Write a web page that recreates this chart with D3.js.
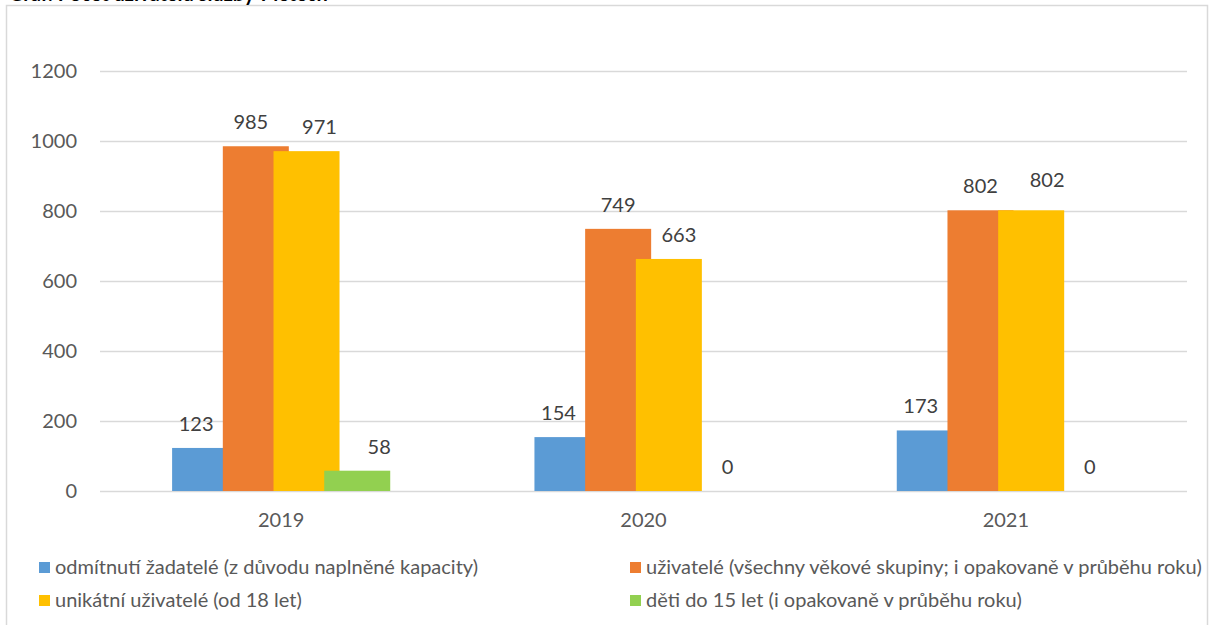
<!DOCTYPE html>
<html><head><meta charset="utf-8">
<script src="https://cdn.jsdelivr.net/npm/d3@7"></script>
<style>html,body{margin:0;padding:0;background:#fff;overflow:hidden}svg{display:block}</style>
</head><body>
<svg id="c" width="1213" height="625"></svg>
<script>
const years = ["2019", "2020", "2021"];
const seriesNames = [
  "odmítnutí žadatelé (z důvodu naplněné kapacity)",
  "uživatelé (všechny věkové skupiny; i opakovaně v průběhu roku)",
  "unikátní uživatelé (od 18 let)",
  "děti do 15 let (i opakovaně v průběhu roku)"
];
const odmitnuti = [123, 154, 173];
const uzivatele = [985, 749, 802];
const unikatni = [971, 663, 802];
const deti = [58, 0, 0];
const yTicks = [0, 200, 400, 600, 800, 1000, 1200];
const colors = ["#5B9BD5", "#ED7D31", "#FFC000", "#92D050"];

const seriesValues = [odmitnuti, uzivatele, unikatni, deti];
const svg = d3.select("#c");
const font = "Lato, 'Open Sans', sans-serif";

// outer frame
svg.append("rect").attr("x", 6.5).attr("y", 5.5).attr("width", 1201).attr("height", 640)
  .attr("fill", "none").attr("stroke", "#d9d9d9").attr("stroke-width", 1.5);

// title (cut off at the top edge, as in the reference)
svg.append("text").attr("x", 9).attr("y", 1.2).attr("font-family", font)
  .attr("font-weight", "bold").attr("font-size", 20).attr("fill", "#000")
  .text("Graf: Počet uživatelů služby v letech");

const pLeft = 100, pRight = 1187, pTop = 71, pBottom = 491;
const x = d3.scaleBand().domain(years).range([pLeft, pRight]).paddingInner(0).paddingOuter(0);
const y = d3.scaleLinear().domain([0, 1200]).range([pBottom, pTop]);

// gridlines
svg.append("g").selectAll("line").data(yTicks).join("line")
  .attr("x1", pLeft).attr("x2", pRight)
  .attr("y1", d => y(d) + 0.5).attr("y2", d => y(d) + 0.5)
  .attr("stroke", "#d9d9d9").attr("stroke-width", 1.5);

// y axis labels
const yAxis = d3.axisLeft(y).tickValues(yTicks).tickSize(0).tickPadding(0).tickFormat(d3.format("d"));
const ya = svg.append("g").attr("transform", `translate(77,0)`).call(yAxis);
ya.select(".domain").remove();
ya.selectAll("text").attr("font-family", font).attr("font-size", 20).attr("fill", "#595959");

// x axis labels
const xAxis = d3.axisBottom(x).tickSize(0).tickPadding(0);
const xa = svg.append("g").attr("transform", `translate(0,${pBottom})`).call(xAxis);
xa.select(".domain").remove();
xa.selectAll("text").attr("font-family", font).attr("font-size", 20).attr("fill", "#595959").attr("dy", "1.8em");

// bars: Excel-like overlap
const bw = x.bandwidth();
const barW = bw * 66 / 362.3;
const step = bw * 50.7 / 362.3;
const groupW = step * 3 + barW;
const bx = (yi, si) => x(years[yi]) + (bw - groupW) / 2 + si * step;

seriesValues.forEach((vals, si) => {
  svg.append("g").selectAll("rect").data(vals).join("rect")
    .attr("x", (d, i) => bx(i, si)).attr("width", barW)
    .attr("y", d => y(d)).attr("height", d => y(0) - y(d))
    .attr("fill", colors[si]);
});

// data labels (with nudges to mimic the reference's collision-avoiding placement)
const seriesDx = [-9, 0, 10, 8];
const nudges = { "0-1": [-5, 0], "0-2": [3, 0], "0-3": [14, 0], "2-2": [6, -6] };
seriesValues.forEach((vals, si) => {
  svg.append("g").selectAll("text").data(vals).join("text")
    .attr("x", (d, i) => bx(i, si) + barW / 2 + seriesDx[si] + ((nudges[i + "-" + si] || [0, 0])[0]))
    .attr("y", (d, i) => y(d) - 17 + ((nudges[i + "-" + si] || [0, 0])[1]))
    .attr("text-anchor", "middle").attr("font-family", font).attr("font-size", 20)
    .attr("fill", "#404040").text(d => d);
});

// legend
const legPos = [[39, 574], [630, 574], [39, 607], [630, 607]];
seriesNames.forEach((name, i) => {
  const g = svg.append("g").attr("transform", `translate(${legPos[i][0]},${legPos[i][1]})`);
  g.append("rect").attr("x", 0).attr("y", -12).attr("width", 11).attr("height", 11).attr("fill", colors[i]);
  g.append("text").attr("x", 16).attr("y", 0).attr("font-family", font).attr("font-size", 20)
    .attr("fill", "#595959").text(name);
});
</script>
</body></html>
